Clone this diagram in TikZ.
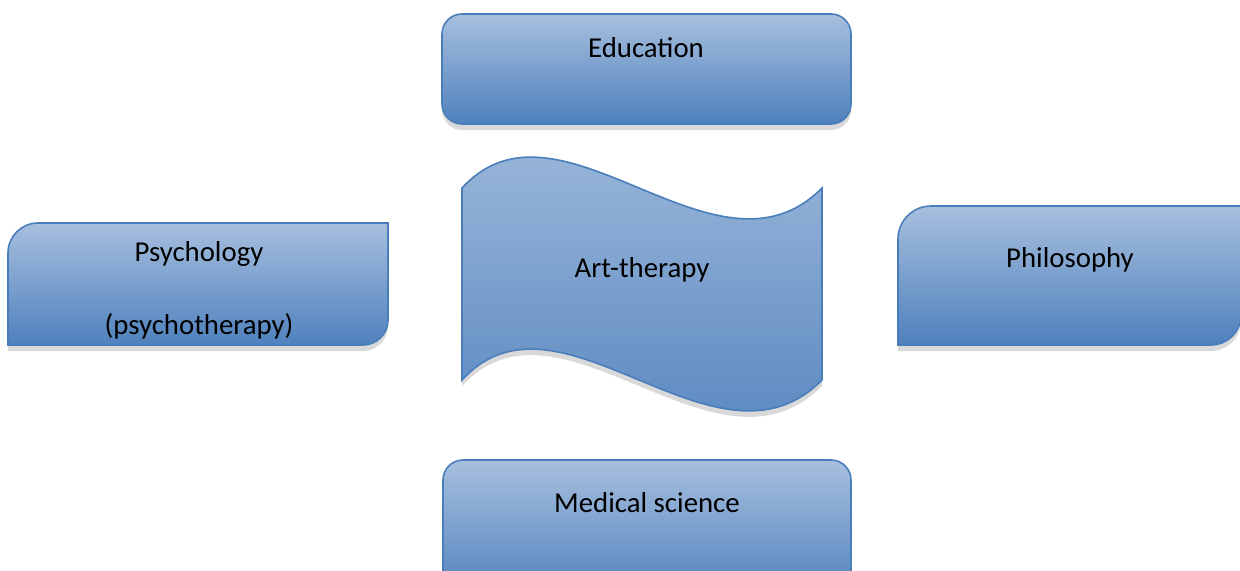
\documentclass[tikz,border=0pt]{standalone}
\usepackage{fontspec}
\setmainfont{Carlito}
\usetikzlibrary{shadows}
\definecolor{top-color}{HTML}{A7BFDE}
\definecolor{bot-color}{HTML}{4F81BD}
\definecolor{line-color}{HTML}{4A7EBB}

\begin{document}
\begin{tikzpicture}[x=0.5pt, y=0.5pt,
                every node/.append style={align=center},
                field/.style={draw=line-color, thick, top color=top-color, bottom color=bot-color,
                              drop shadow={shadow xshift=0pt, shadow yshift=-3pt, opacity=.15, fill=black}},
                lbl/.style={font=\fontsize{14.4}{18.25}\selectfont, text=black, inner sep=0pt}]
    \useasboundingbox (0,0) rectangle (1240,570);
    \clip (0,0) rectangle (1240,570);

    % the four fields round art-therapy
    \path[field, rounded corners=10pt] (442,446) rectangle (851,556);
    \path[field, rounded corners=10pt] (443,-30) rectangle (851,110);
    \path[field] (8,225) -- (8,317) arc (180:90:15pt) -- (388,347)
                 -- (388,250) arc (0:-90:12.5pt) -- cycle;
    \path[field] (898,225) -- (898,331) arc (180:90:16.5pt) -- (1241,364)
                 -- (1241,255) arc (0:-90:15pt) -- cycle;

    % the wave in the middle
    \path[field] (462,190) -- (462,382)
                 .. controls (560,489) and (716,275) .. (822,382)
                 -- (822,190)
                 .. controls (716,83) and (560,297) .. (462,190) -- cycle;

    \node[lbl] (edu) at (646,522) {Education};
    \node[lbl] (psy) at (199,280) {Psychology\\[18.25pt](psychotherapy)};
    \node[lbl] (art) at (642,300) {Art-therapy};
    \node[lbl] (phi) at (1070,310) {Philosophy};
    \node[lbl] (med) at (647,67) {Medical science};
\end{tikzpicture}
\end{document}
